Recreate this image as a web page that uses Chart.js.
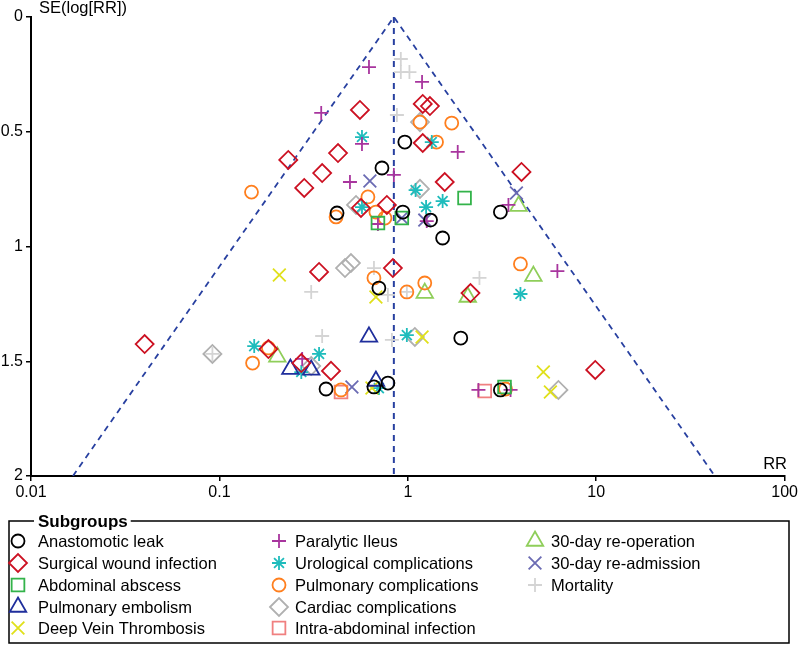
<!DOCTYPE html>
<html><head><meta charset="utf-8">
<script src="https://cdn.jsdelivr.net/npm/chart.js@4.4.0/dist/chart.umd.min.js"></script>
<style>html,body{margin:0;padding:0;background:#fff;overflow:hidden}#wrap{position:relative;width:800px;height:647px}</style>
</head><body><div id="wrap"><canvas id="c" width="800" height="647"></canvas></div>
<script>
// ---- Data (RR and SE(log[RR])) ----
const subgroupNames = ['Anastomotic leak','Surgical wound infection','Abdominal abscess','Pulmonary embolism','Deep Vein Thrombosis',
  'Paralytic Ileus','Urological complications','Pulmonary complications','Cardiac complications','Intra-abdominal infection',
  '30-day re-operation','30-day re-admission','Mortality'];

const leakRR = [0.729,0.421,0.941,0.964,1.32,1.53,3.10,0.702,1.91,0.368,0.661,0.784,3.10];
const leakSE = [0.658,0.854,0.850,0.545,0.885,0.963,0.850,1.181,1.399,1.621,1.612,1.595,1.625];

const woundRR = [0.557,0.232,0.426,0.351,0.282,0.564,0.774,1.20,1.31,1.20,1.57,4.01,0.338,0.833,2.15,0.0401,0.182,0.272,0.391,9.88];
const woundSE = [0.405,0.623,0.593,0.680,0.745,0.832,0.819,0.379,0.388,0.549,0.719,0.675,1.111,1.094,1.203,1.425,1.447,1.508,1.542,1.538];

const abscessRR = [0.694,0.929,2.00,3.26];
const abscessSE = [0.898,0.876,0.789,1.612];

const embolismRR = [0.622,0.238,0.307,0.677];
const embolismSE = [1.394,1.534,1.538,1.586];

const dvtRR = [0.208,0.677,1.19,0.645,5.24,5.71];
const dvtSE = [1.124,1.220,1.394,1.617,1.547,1.634];

const ileusRR = [0.622,0.347,0.571,0.843,0.493,0.694,1.19,1.84,3.42,6.22,0.275,2.37,3.51,1.26];
const ileusSE = [0.218,0.418,0.553,0.688,0.719,0.902,0.283,0.588,0.819,1.107,1.490,1.625,1.625,0.889];

const uroRR = [0.571,1.34,1.10,0.571,1.25,1.53,3.96,0.988,0.153,0.338,0.272,0.702];
const uroSE = [0.523,0.545,0.754,0.828,0.828,0.802,1.207,1.386,1.434,1.468,1.547,1.617];

const pulmRR = [0.148,0.614,0.416,0.677,0.756,1.16,1.71,1.42,0.661,0.988,1.23,3.96,0.182,0.150,0.442,3.30];
const pulmSE = [0.763,0.784,0.871,0.850,0.876,0.458,0.462,0.545,1.137,1.198,1.159,1.076,1.442,1.508,1.625,1.621];

const cardiacRR = [1.16,0.531,1.16,0.464,0.499,1.09,0.0918,0.307,6.30];
const cardiacSE = [0.458,0.819,0.749,1.094,1.072,1.394,1.468,1.521,1.625];

const intraRR = [0.442,2.56];
const intraSE = [1.634,1.630];

const reopRR = [3.87,4.64,1.23,2.08,0.203];
const reopSE = [0.824,1.129,1.203,1.220,1.481];

const readmRR = [0.629,0.929,1.23,3.77,0.505];
const readmSE = [0.715,0.876,0.885,0.767,1.612];

const mortRR = [0.918,0.918,1.02,0.875,0.661,0.784,0.988,0.307,0.351,0.823,2.40,0.0918];
const mortSE = [0.183,0.240,0.240,0.427,1.094,1.211,1.198,1.198,1.390,1.407,1.137,1.468];

// funnel (pseudo 95% limits) and pooled estimate line
const funnelRR = [0.0167, 0.843, 42.6];
const funnelSE = [2, 0, 2];
const pooledRR = [0.843, 0.843];
const pooledSE = [0, 2];

const xTickValues = [0.01, 0.1, 1, 10, 100];
const xTickLabels = ['0.01', '0.1', '1', '10', '100'];
const yTickValues = [0, 0.5, 1, 1.5, 2];
const yTickLabels = ['0', '0.5', '1', '1.5', '2'];

// ---- Styles ----
const groupRR = [leakRR, woundRR, abscessRR, embolismRR, dvtRR, ileusRR, uroRR, pulmRR, cardiacRR, intraRR, reopRR, readmRR, mortRR];
const groupSE = [leakSE, woundSE, abscessSE, embolismSE, dvtSE, ileusSE, uroSE, pulmSE, cardiacSE, intraSE, reopSE, readmSE, mortSE];
const groupColors = ['#000000','#cc1122','#33b34a','#1f2e9c','#e0e01a','#a8359e','#1fbcbc','#ff7f1e','#b0b0b0','#f08080','#8fce5a','#6b6bb3','#d4d4d4'];
const groupStyles = ['circle','rectRot','rect','triangle','crossRot','cross','star','circle','rectRot','rect','triangle','crossRot','cross'];
const styleRadius = {circle:6.5, rectRot:9, rect:9, triangle:9.5, crossRot:9, cross:7, star:7};

const FONT = '"Liberation Sans", Arial, Helvetica, sans-serif';

const datasets = subgroupNames.map((name, i) => ({
  type: 'scatter',
  label: name,
  data: groupRR[i].map((v, k) => ({x: v, y: groupSE[i][k]})),
  pointStyle: groupStyles[i],
  pointRadius: styleRadius[groupStyles[i]],
  pointHoverRadius: styleRadius[groupStyles[i]],
  pointBorderColor: groupColors[i],
  pointBackgroundColor: 'rgba(0,0,0,0)',
  pointBorderWidth: 1.8,
  borderColor: groupColors[i],
  backgroundColor: 'rgba(0,0,0,0)',
  showLine: false,
  order: 1
}));

datasets.push({
  type: 'line', label: '_funnel',
  data: funnelRR.map((v, k) => ({x: v, y: funnelSE[k]})),
  borderColor: '#2840a0', borderWidth: 1.8, borderDash: [6, 5],
  pointRadius: 0, fill: false, tension: 0, order: 2
});
datasets.push({
  type: 'line', label: '_pooled',
  data: pooledRR.map((v, k) => ({x: v, y: pooledSE[k]})),
  borderColor: '#2840a0', borderWidth: 2, borderDash: [6, 5],
  pointRadius: 0, fill: false, tension: 0, order: 2
});

function drawMarker(ctx, style, color, x, y) {
  ctx.save();
  ctx.strokeStyle = color;
  ctx.fillStyle = 'rgba(0,0,0,0)';
  ctx.lineWidth = 1.8;
  Chart.helpers.drawPoint(ctx, {pointStyle: style, radius: styleRadius[style], rotation: 0, borderWidth: 1.8}, x, y);
  ctx.restore();
}

const decorPlugin = {
  id: 'decor',
  afterDraw(chart) {
    const ctx = chart.ctx;
    ctx.save();
    // axis titles
    ctx.fillStyle = '#000';
    ctx.font = '16.5px ' + FONT;
    ctx.textBaseline = 'middle';
    ctx.textAlign = 'left';
    ctx.fillText('SE(log[RR])', 39, 8);
    ctx.textAlign = 'right';
    ctx.fillText('RR', 787, 464);

    // legend frame
    const L = 9, R = 789, T = 521, B = 643;
    const title = 'Subgroups';
    ctx.font = 'bold 17px ' + FONT;
    const tw = ctx.measureText(title).width;
    const tx = 38;
    ctx.strokeStyle = '#000';
    ctx.lineWidth = 1.5;
    ctx.beginPath();
    ctx.moveTo(tx - 4, T); ctx.lineTo(L, T); ctx.lineTo(L, B); ctx.lineTo(R, B); ctx.lineTo(R, T); ctx.lineTo(tx + tw + 3, T);
    ctx.stroke();
    ctx.textAlign = 'left';
    ctx.fillStyle = '#000';
    ctx.fillText(title, tx, T + 1);

    // legend items, column-major
    const cols = [{mx: 18, tx: 38}, {mx: 279, tx: 295}, {mx: 535, tx: 551}];
    const rows = [541, 563, 585, 607, 628];
    ctx.font = '16.5px ' + FONT;
    subgroupNames.forEach((name, i) => {
      const c = cols[Math.floor(i / 5)], r = rows[i % 5];
      drawMarker(ctx, groupStyles[i], groupColors[i], c.mx, r);
      ctx.fillStyle = '#000';
      ctx.fillText(name, c.tx, r + 1);
    });
    ctx.restore();
  }
};

new Chart(document.getElementById('c'), {
  type: 'scatter',
  data: {datasets},
  options: {
    responsive: false,
    animation: false,
    devicePixelRatio: 1,
    layout: {padding: {left: 0, right: 13, top: 17, bottom: 147}},
    plugins: {legend: {display: false}, tooltip: {enabled: false}},
    scales: {
      x: {
        type: 'logarithmic', min: 0.01, max: 100,
        afterBuildTicks: s => { s.ticks = xTickValues.map(v => ({value: v})); },
        afterFit: s => { s.height = 24; },
        ticks: {
          autoSkip: false, maxRotation: 0, color: '#000', padding: 2,
          font: {family: FONT, size: 16},
          callback: (v) => { const k = xTickValues.indexOf(v); return k >= 0 ? xTickLabels[k] : ''; }
        },
        grid: {display: true, drawOnChartArea: false, drawTicks: true, tickLength: 5, color: '#000', lineWidth: 1.5},
        border: {display: true, color: '#000', width: 2}
      },
      y: {
        type: 'linear', reverse: true, min: 0, max: 2,
        afterBuildTicks: s => { s.ticks = yTickValues.map(v => ({value: v})); },
        afterFit: s => { s.width = 31; },
        ticks: {
          color: '#000', padding: 3,
          font: {family: FONT, size: 16},
          callback: (v) => { const k = yTickValues.indexOf(v); return k >= 0 ? yTickLabels[k] : ''; }
        },
        grid: {display: true, drawOnChartArea: false, drawTicks: true, tickLength: 5, color: '#000', lineWidth: 1.5},
        border: {display: true, color: '#000', width: 2}
      }
    }
  },
  plugins: [decorPlugin]
});
</script></body></html>
